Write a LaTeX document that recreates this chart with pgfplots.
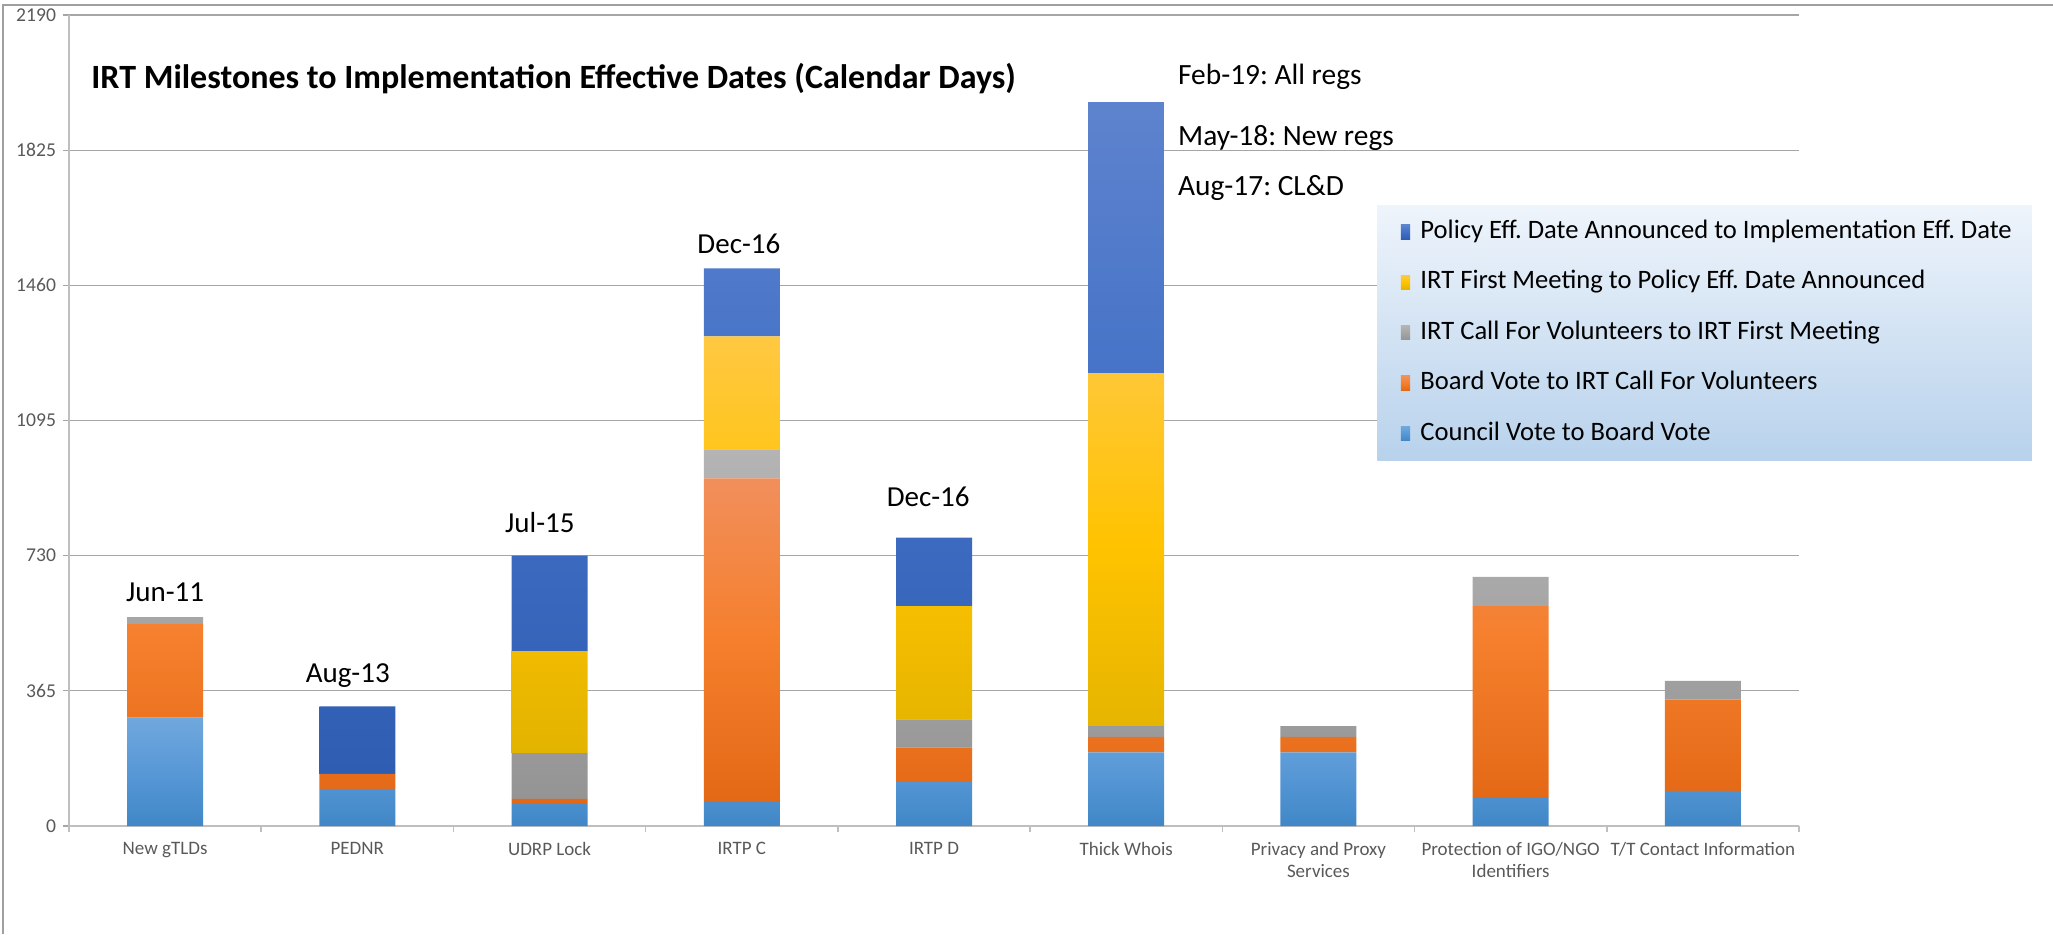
\documentclass[border=0pt]{standalone}
\usepackage{fontspec}
\setmainfont{Carlito}
\usepackage{pgfplots}
\usepackage{pgfplotstable}
\pgfplotsset{compat=1.18}
\frenchspacing

\definecolor{tickgray}{HTML}{595959}
\definecolor{gridgray}{HTML}{A6A6A6}
\definecolor{axisgray}{HTML}{BFBFBF}
\definecolor{cvT}{RGB}{112,168,221}\definecolor{cvM}{RGB}{88,152,214}\definecolor{cvB}{RGB}{64,135,199}
\definecolor{bvT}{RGB}{241,143,92}\definecolor{bvM}{RGB}{245,127,44}\definecolor{bvB}{RGB}{227,104,22}
\definecolor{icT}{RGB}{180,180,180}\definecolor{icM}{RGB}{165,165,165}\definecolor{icB}{RGB}{148,148,148}
\definecolor{fmT}{RGB}{255,200,66}\definecolor{fmM}{RGB}{255,195,0}\definecolor{fmB}{RGB}{226,179,0}
\definecolor{peT}{RGB}{94,131,206}\definecolor{peM}{RGB}{65,112,198}\definecolor{peB}{RGB}{46,93,178}
\definecolor{lgT}{RGB}{238,244,251}\definecolor{lgB}{RGB}{184,210,236}

\pgfplotstableread{
x council board call first policy
0 293 252 19 0 0
1 100 41 0 0 182
2 60 13 124 275 258
3 65 874 78 305 184
4 119 93 76 306 185
5 199 42 29 953 732
6 199 42 29 0 0
7 78 516 79 0 0
8 95 246 51 0 0
}\datatable

\begin{document}
\begin{tikzpicture}
\path[use as bounding box] (0pt,0pt) rectangle (1026.5pt,467pt);
\draw[gray!75, line width=0.7pt] (1.5pt,0pt) -- (1.5pt,464.5pt) -- (1026.5pt,464.5pt);
\node[anchor=base west, inner sep=0pt, font=\bfseries\fontsize{17}{20}\selectfont] at (45.5pt,422.5pt)
  {IRT Milestones to Implementation Effective Dates (Calendar Days)};
\begin{axis}[
  at={(34.5pt,54pt)}, anchor=south west,
  scale only axis, width=865pt, height=405.5pt,
  xmin=-0.5, xmax=8.5, ymin=0, ymax=2190,
  ybar stacked, bar width=38pt,
  clip=false,
  axis x line*=bottom, axis y line*=left,
  x axis line style={axisgray, line width=1pt},
  y axis line style={axisgray, line width=0.8pt},
  ymajorgrids, grid style={gridgray, line width=0.6pt},
  ytick={0,365,730,1095,1460,1825,2190},
  yticklabels={\textnormal{0},\textnormal{365},\textnormal{730},\textnormal{1095},\textnormal{1460},\textnormal{1825},\textnormal{2190}},
  xtick={0,...,8},
  xticklabels={New gTLDs, PEDNR, UDRP Lock, IRTP C, IRTP D, Thick Whois,
    {Privacy and Proxy\\Services}, {Protection of IGO/NGO\\Identifiers}, T/T Contact Information},
  xtick style={draw=none},
  ytick style={gridgray, line width=0.6pt},
  tick align=outside, major tick length=3pt,
  xticklabel style={align=center, anchor=north, inner ysep=0pt, yshift=-5pt,
    font=\fontsize{9.5}{11}\selectfont, text=tickgray},
  yticklabel style={font=\fontsize{9.8}{11}\selectfont, text=tickgray},
  reverse legend,
  legend cell align=left,
  legend image code/.code={\path (-1.8pt,0pt) (9.8pt,0pt); \path[#1] (0pt,-3.6pt) rectangle (4.6pt,3.6pt);},
  legend style={at={(0.756,0.7657)}, anchor=north west, draw=none,
    top color=lgT, bottom color=lgB,
    inner xsep=10pt, inner ysep=7pt, row sep=12.7pt,
    nodes={inner xsep=0pt, inner ysep=0pt, text height=9.5pt, text depth=3pt},
    font=\fontsize{13.3}{15}\selectfont},
]
\addplot[draw=none, top color=cvT, bottom color=cvB, middle color=cvM] table[x=x,y=council] {\datatable};
\addlegendentry{Council Vote to Board Vote}
\addplot[draw=none, top color=bvT, bottom color=bvB, middle color=bvM] table[x=x,y=board] {\datatable};
\addlegendentry{Board Vote to IRT Call For Volunteers}
\addplot[draw=none, top color=icT, bottom color=icB, middle color=icM] table[x=x,y=call] {\datatable};
\addlegendentry{IRT Call For Volunteers to IRT First Meeting}
\addplot[draw=none, top color=fmT, bottom color=fmB, middle color=fmM] table[x=x,y=first] {\datatable};
\addlegendentry{IRT First Meeting to Policy Eff. Date Announced}
\addplot[draw=none, top color=peT, bottom color=peB, middle color=peM] table[x=x,y=policy] {\datatable};
\addlegendentry{Policy Eff. Date Announced to Implementation Eff. Date}

\draw[axisgray, line width=0.8pt] (axis cs:-0.5,0) -- ++(0pt,-3pt);
\draw[axisgray, line width=0.8pt] (axis cs:0.5,0) -- ++(0pt,-3pt);
\draw[axisgray, line width=0.8pt] (axis cs:1.5,0) -- ++(0pt,-3pt);
\draw[axisgray, line width=0.8pt] (axis cs:2.5,0) -- ++(0pt,-3pt);
\draw[axisgray, line width=0.8pt] (axis cs:3.5,0) -- ++(0pt,-3pt);
\draw[axisgray, line width=0.8pt] (axis cs:4.5,0) -- ++(0pt,-3pt);
\draw[axisgray, line width=0.8pt] (axis cs:5.5,0) -- ++(0pt,-3pt);
\draw[axisgray, line width=0.8pt] (axis cs:6.5,0) -- ++(0pt,-3pt);
\draw[axisgray, line width=0.8pt] (axis cs:7.5,0) -- ++(0pt,-3pt);
\draw[axisgray, line width=0.8pt] (axis cs:8.5,0) -- ++(0pt,-3pt);

\node[anchor=base, inner sep=0pt, font=\fontsize{14.5}{16}\selectfont] at (axis cs:0,606) {Jun-11};
\node[anchor=base, inner sep=0pt, font=\fontsize{14.5}{16}\selectfont] at (axis cs:0.95,387) {Aug-13};
\node[anchor=base, inner sep=0pt, font=\fontsize{14.5}{16}\selectfont] at (axis cs:1.95,792) {Jul-15};
\node[anchor=base, inner sep=0pt, font=\fontsize{14.5}{16}\selectfont] at (axis cs:2.985,1547) {Dec-16};
\node[anchor=base, inner sep=0pt, font=\fontsize{14.5}{16}\selectfont] at (axis cs:3.97,864) {Dec-16};
\node[anchor=base west, inner sep=0pt, font=\fontsize{14.7}{16}\selectfont] at (axis cs:5.268,2001) {Feb-19: All regs};
\node[anchor=base west, inner sep=0pt, font=\fontsize{14.7}{16}\selectfont] at (axis cs:5.268,1838) {May-18: New regs};
\node[anchor=base west, inner sep=0pt, font=\fontsize{14.7}{16}\selectfont] at (axis cs:5.268,1703) {Aug-17: CL\&D};
\end{axis}
\end{tikzpicture}
\end{document}
